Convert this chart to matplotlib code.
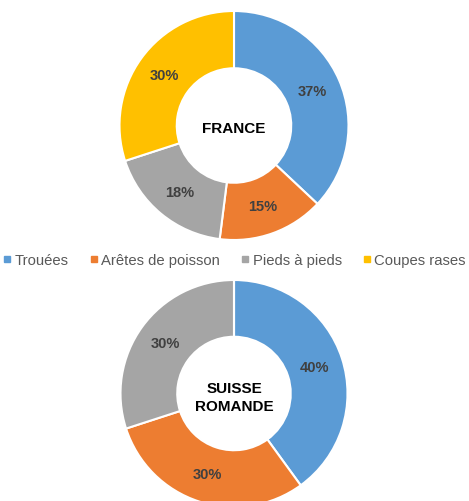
import matplotlib
matplotlib.use('Agg')
import matplotlib.pyplot as plt
from matplotlib.lines import Line2D

# Data
CATEGORIES = ['Trouées', 'Arêtes de poisson', 'Pieds à pieds', 'Coupes rases']
COLORS = ['#5B9BD5', '#ED7D31', '#A5A5A5', '#FFC000']
FRANCE = [37, 15, 18, 30]
SUISSE = [40, 30, 30, 0]
TITLES = ['FRANCE', 'SUISSE\nROMANDE']

plt.rcParams['font.family'] = ['Liberation Sans', 'DejaVu Sans']

W, H = 469, 502
fig = plt.figure(figsize=(W / 100, H / 100), dpi=100)


def px_axes(cx, cy, r):
    """Axes box (figure fraction) for a circle of radius r centered at pixel (cx, cy) from top-left."""
    return [(cx - r) / W, (H - cy - r) / H, 2 * r / W, 2 * r / H]


def donut(ax, values, title, title_dy=0.0):
    wedges, texts, autotexts = ax.pie(
        values, colors=COLORS, startangle=90, counterclock=False,
        radius=1.0, pctdistance=0.75,
        autopct=lambda p: f'{p:.0f}%' if p > 0.5 else '',
        wedgeprops=dict(width=0.5, edgecolor='white', linewidth=1.5),
        textprops=dict(color='#404040', fontsize=10.5, fontweight='bold'))
    ax.text(0, title_dy, title, ha='center', va='center', fontsize=11,
            fontweight='bold', color='black', linespacing=1.4)
    ax.set_xlim(-1, 1)
    ax.set_ylim(-1, 1)
    ax.set_aspect('equal')
    for w in wedges:
        w.set_clip_on(False)


ax1 = fig.add_axes(px_axes(234, 126.5, 114.5))
donut(ax1, FRANCE, TITLES[0], title_dy=-0.02)

ax2 = fig.add_axes(px_axes(234, 394.5, 113.5))
donut(ax2, SUISSE, TITLES[1], title_dy=-0.03)

handles = [Line2D([], [], marker='s', linestyle='none', markersize=4.5,
                  markerfacecolor=c, markeredgecolor=c) for c in COLORS]
fig.legend(handles, CATEGORIES, loc='center', bbox_to_anchor=(0.5, (H - 261) / H),
           ncol=4, frameon=False, handlelength=0.5, handletextpad=0.25,
           columnspacing=1.45, fontsize=10.7, labelcolor='#595959',
           borderpad=0, borderaxespad=0)

fig.savefig('out.png', dpi=100)
